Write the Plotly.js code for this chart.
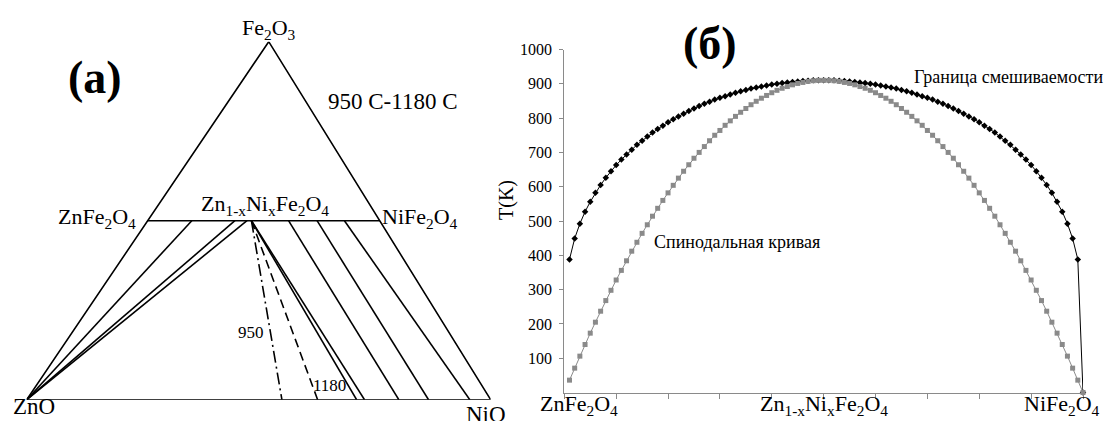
<!DOCTYPE html>
<html><head><meta charset="utf-8">
<script src="https://cdn.plot.ly/plotly-3.0.1.min.js"></script>
<style>html,body{margin:0;padding:0;background:#fff}#chart{width:1104px;height:421px}</style>
</head><body><div id="chart"></div>
<script>
// ================= DATA =================
// Panel (б): composition axis (Ni fraction x in Zn1-xNixFe2O4)
const compX = [0.01,0.02,0.03,0.04,0.05,0.06,0.07,0.08,0.09,0.10,
0.11,0.12,0.13,0.14,0.15,0.16,0.17,0.18,0.19,0.20,
0.21,0.22,0.23,0.24,0.25,0.26,0.27,0.28,0.29,0.30,
0.31,0.32,0.33,0.34,0.35,0.36,0.37,0.38,0.39,0.40,
0.41,0.42,0.43,0.44,0.45,0.46,0.47,0.48,0.49,0.50,
0.51,0.52,0.53,0.54,0.55,0.56,0.57,0.58,0.59,0.60,
0.61,0.62,0.63,0.64,0.65,0.66,0.67,0.68,0.69,0.70,
0.71,0.72,0.73,0.74,0.75,0.76,0.77,0.78,0.79,0.80,
0.81,0.82,0.83,0.84,0.85,0.86,0.87,0.88,0.89,0.90,
0.91,0.92,0.93,0.94,0.95,0.96,0.97,0.98,0.99,1.00];
// Miscibility gap boundary T(K)
const binodalT = [388,449,492,527,556,582,605,626,645,663,
679,694,708,722,734,746,758,768,778,788,
797,805,813,821,828,835,842,848,854,859,
864,869,874,878,882,886,889,892,895,898,
900,902,904,905,907,908,909,910,910,910,
910,910,909,908,907,905,904,902,900,898,
895,892,889,886,882,878,874,869,864,859,
854,848,842,835,828,821,813,805,797,788,
778,768,758,746,734,722,708,694,679,663,
645,626,605,582,556,527,492,449,388,0];
// Spinodal curve T(K)
const spinodalT = [36,71,106,140,173,205,237,268,298,328,
356,384,412,438,464,489,514,537,560,582,
604,625,645,664,683,700,717,734,750,764,
779,792,805,817,828,839,849,858,866,874,
881,887,892,897,901,904,907,909,910,910,
910,909,907,904,901,897,892,887,881,874,
866,858,849,839,828,817,805,792,779,764,
750,734,717,700,683,664,645,625,604,582,
560,537,514,489,464,438,412,384,356,328,
298,268,237,205,173,140,106,71,36,0];
const xTickVals = [0,0.1,0.2,0.3,0.4,0.5,0.6,0.7,0.8,0.9,1];
const xLabelText = ['ZnFe<sub>2</sub>O<sub>4</sub>','Zn<sub>1-x</sub>Ni<sub>x</sub>Fe<sub>2</sub>O<sub>4</sub>','NiFe<sub>2</sub>O<sub>4</sub>'];
const xLabelPos = [0.028, 0.5, 0.96];
const yTickVals = [100,200,300,400,500,600,700,800,900,1000];

// Panel (a): compositions [ZnO, NiO, Fe2O3]
const vZnO = [1,0,0], vNiO = [0,1,0], vFe2O3 = [0,0,1];
const joinZn = [0.5,0,0.5], joinNi = [0,0.5,0.5];        // ZnFe2O4, NiFe2O4
const tieToZnO_x = [0.19,0.376,0.428];                   // spinel x linked with ZnO
const fanSpinelX = 0.447;                                // Zn1-xNixFe2O4 fan point
const fanOxideY = [0.55,0.627,0.711,0.728];              // Ni fraction on ZnO–NiO join
const tieSpinelX = [0.607,0.730,0.848];
const tieOxideY = [0.802,0.866,0.955];

// ================= DRAWING =================
const SERIF = 'Liberation Serif';
const APEX_X = 0.5216;   // shape of the drawn triangle
function P(c){ const s=c[0]+c[1]+c[2]; return [(c[1]+c[2]*APEX_X)/s, c[2]/s]; }
function spinel(x){ return [0.5*(1-x),0.5*x,0.5]; }
function oxide(y){ return [1-y,y,0]; }
function seg(a,b,dash){
  const p=P(a), q=P(b);
  return {x:[p[0],q[0]], y:[p[1],q[1]], xaxis:'x2', yaxis:'y2', mode:'lines',
    line:{color:'#000', width:1.6, dash:dash||'solid'}, hoverinfo:'skip', cliponaxis:false};
}
const traces = [];
const tri = [vZnO,vNiO,vFe2O3,vZnO].map(P);
traces.push({x:tri.map(p=>p[0]), y:tri.map(p=>p[1]), xaxis:'x2', yaxis:'y2', mode:'lines',
  line:{color:'#000',width:1.6}, cliponaxis:false, hoverinfo:'skip'});
traces.push(seg(joinZn, joinNi));
tieToZnO_x.forEach(x=>traces.push(seg(vZnO, spinel(x))));
const fanDash = ['12px,4px,2px,4px','9px,5px','solid','solid'];
fanOxideY.forEach((y,i)=>traces.push(seg(spinel(fanSpinelX), oxide(y), fanDash[i])));
tieSpinelX.forEach((x,i)=>traces.push(seg(spinel(x), oxide(tieOxideY[i]))));

// Panel (б)
traces.push({x:compX, y:binodalT, mode:'lines+markers', xaxis:'x', yaxis:'y',
  line:{color:'#000',width:1}, marker:{symbol:'diamond',size:5,color:'#000'}, cliponaxis:false});
traces.push({x:compX, y:spinodalT, mode:'lines+markers', xaxis:'x', yaxis:'y',
  line:{color:'#8a8a8a',width:1}, marker:{symbol:'square',size:5,color:'#8a8a8a'}, cliponaxis:false});

const W=1104, H=421;
function px(x){return x/W;} function py(y){return 1-y/H;}
function ann(text,x,y,size,opt){
  return Object.assign({text:text, x:px(x), y:py(y), xref:'paper', yref:'paper', showarrow:false,
    xanchor:'center', yanchor:'middle', font:{family:SERIF,size:size,color:'#000'}}, opt||{});
}
const annotations = [
  ann('<b>(a)</b>',94.5,78,46),
  ann('Fe<sub>2</sub>O<sub>3</sub>',269,29,22),
  ann('950 C-1180 C',392.5,101,23),
  ann('ZnFe<sub>2</sub>O<sub>4</sub>',138,218,22,{xanchor:'right'}),
  ann('Zn<sub>1-x</sub>Ni<sub>x</sub>Fe<sub>2</sub>O<sub>4</sub>',265,205,22),
  ann('NiFe<sub>2</sub>O<sub>4</sub>',380,218,22,{xanchor:'left'}),
  ann('950',250.5,332,17),
  ann('1180',329.5,385,17),
  ann('ZnO',33.7,421,23,{yanchor:'bottom'}),
  ann('NiO',485.5,414,23),
  ann('<b>(б)</b>',710,43,46),
  ann('T(K)',506,200,20,{textangle:-90}),
  ann('Граница смешиваемости',912,77,18,{xanchor:'left'}),
  ann('Спинодальная кривая',652,242,18,{xanchor:'left'})
];
// composition labels under the x axis of panel (б)
xLabelText.forEach((t,i)=>annotations.push({text:t, x:xLabelPos[i], xref:'x', y:0, yref:'paper',
  showarrow:false, xanchor:'center', yanchor:'bottom', font:{family:SERIF,size:22,color:'#000'}}));

const layout = {
  width:W, height:H, margin:{l:0,r:0,t:0,b:0}, showlegend:false,
  paper_bgcolor:'#fff', plot_bgcolor:'rgba(0,0,0,0)',
  font:{family:SERIF,color:'#000'},
  xaxis:{domain:[564.3/W,1083/W], range:[0,1], anchor:'y', showgrid:false, zeroline:false,
    showline:true, linecolor:'#8a8a8a', linewidth:1, ticks:'outside', ticklen:5, tickcolor:'#8a8a8a',
    tickvals:xTickVals, showticklabels:false, fixedrange:true},
  yaxis:{domain:[1-392.5/H,1-49.5/H], range:[0,1000], anchor:'x', showgrid:false, zeroline:false,
    showline:true, linecolor:'#8a8a8a', linewidth:1, ticks:'outside', ticklen:4, tickcolor:'#8a8a8a',
    ticklabelstandoff:4,
    tickvals:yTickVals, tickfont:{family:SERIF,size:16,color:'#000'}, fixedrange:true},
  xaxis2:{domain:[26.7/W,490.7/W], range:[0,1], anchor:'y2', visible:false, fixedrange:true},
  yaxis2:{domain:[1-399.7/H,1-41.7/H], range:[0,1], anchor:'x2', visible:false, fixedrange:true},
  annotations:annotations
};
Plotly.newPlot('chart', traces, layout, {displayModeBar:false, staticPlot:true});
</script></body></html>
